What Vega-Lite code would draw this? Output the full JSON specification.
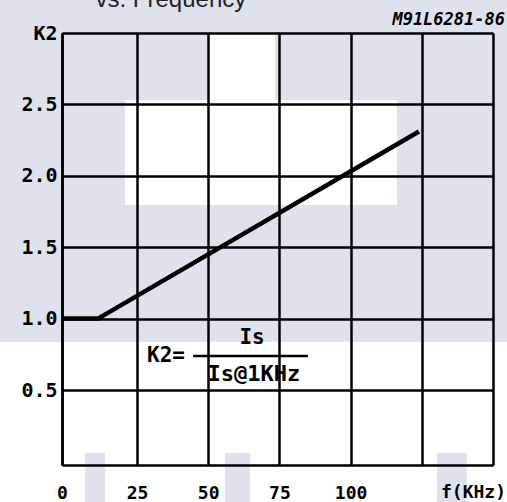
{
  "$schema": "https://vega.github.io/schema/vega-lite/v6.json",
  "width": 431,
  "height": 432,
  "autosize": {"type": "none"},
  "padding": {"left": 62, "top": 33, "right": 14, "bottom": 37},
  "background": "#dee2ed",
  "view": {"stroke": null},
  "data": {"values": [{}]},
  "config": {
    "axis": {
      "domainColor": "black",
      "domainWidth": 2.5,
      "gridColor": "black",
      "gridWidth": 2.5,
      "gridOpacity": 1,
      "ticks": false,
      "labelFlush": false,
      "labelFont": "DejaVu Sans Mono",
      "labelFontSize": 20,
      "labelFontWeight": "bold",
      "labelColor": "black",
      "title": null
    }
  },
  "layer": [
    {
      "mark": {"type": "rect", "fill": "white"},
      "encoding": {
        "x": {"datum": -25, "type": "quantitative", "scale": {"domain": [0, 25, 150], "range": [0, 75, 431]}},
        "x2": {"datum": 160},
        "y": {"datum": -0.3, "type": "quantitative", "scale": {"domain": [0, 0.5, 3], "range": [432, 357, 0]}},
        "y2": {"datum": 0.836}
      }
    },
    {
      "mark": {"type": "rect", "fill": "white"},
      "encoding": {
        "x": {"datum": 21, "type": "quantitative", "scale": {"domain": [0, 25, 150], "range": [0, 75, 431]}},
        "x2": {"datum": 116.3},
        "y": {"datum": 1.795, "type": "quantitative", "scale": {"domain": [0, 0.5, 3], "range": [432, 357, 0]}},
        "y2": {"datum": 2.53}
      }
    },
    {
      "mark": {"type": "rect", "fill": "white"},
      "encoding": {
        "x": {"datum": 49.9, "type": "quantitative", "scale": {"domain": [0, 25, 150], "range": [0, 75, 431]}},
        "x2": {"datum": 73.5},
        "y": {"datum": 2.5, "type": "quantitative", "scale": {"domain": [0, 0.5, 3], "range": [432, 357, 0]}},
        "y2": {"datum": 3.0}
      }
    },
    {
      "mark": {"type": "rect", "fill": "#dee2ed"},
      "encoding": {
        "x": {"datum": 7.7, "type": "quantitative", "scale": {"domain": [0, 25, 150], "range": [0, 75, 431]}},
        "x2": {"datum": 14.3},
        "y": {"datum": -0.3, "type": "quantitative", "scale": {"domain": [0, 0.5, 3], "range": [432, 357, 0]}},
        "y2": {"datum": 0.08}
      }
    },
    {
      "mark": {"type": "rect", "fill": "#dee2ed"},
      "encoding": {
        "x": {"datum": 55.9, "type": "quantitative", "scale": {"domain": [0, 25, 150], "range": [0, 75, 431]}},
        "x2": {"datum": 64.7},
        "y": {"datum": -0.3, "type": "quantitative", "scale": {"domain": [0, 0.5, 3], "range": [432, 357, 0]}},
        "y2": {"datum": 0.08}
      }
    },
    {
      "mark": {"type": "rect", "fill": "#dee2ed"},
      "encoding": {
        "x": {"datum": 130.3, "type": "quantitative", "scale": {"domain": [0, 25, 150], "range": [0, 75, 431]}},
        "x2": {"datum": 140.8},
        "y": {"datum": -0.3, "type": "quantitative", "scale": {"domain": [0, 0.5, 3], "range": [432, 357, 0]}},
        "y2": {"datum": 0.08}
      }
    },
    {
      "data": {"values": [
        {"f": 0, "K2": 1.0},
        {"f": 12, "K2": 1.0},
        {"f": 124, "K2": 2.31}
      ]},
      "mark": {"type": "line", "color": "black", "strokeWidth": 4.5, "strokeCap": "butt", "strokeJoin": "round"},
      "encoding": {
        "x": {
          "field": "f", "type": "quantitative",
          "scale": {"domain": [0, 25, 150], "range": [0, 75, 431]},
          "axis": {
            "values": [0, 25, 50, 75, 100, 125, 150],
            "labelExpr": "datum.value >= 125 ? '' : datum.label",
            "format": "d",
            "labelPadding": 19,
            "labelFontSize": 18,
            "labelFlush": false,
            "grid": true,
            "zindex": 1
          }
        },
        "y": {
          "field": "K2", "type": "quantitative",
          "scale": {"domain": [0, 0.5, 3], "range": [432, 357, 0]},
          "axis": {
            "values": [0.5, 1, 1.5, 2, 2.5, 3],
            "labelExpr": "datum.value == 3 ? 'K2' : format(datum.value, '.1f')",
            "labelPadding": 5,
            "labelFlush": false,
            "grid": true,
            "zindex": 1
          }
        }
      }
    },
    {
      "mark": {"type": "rule", "color": "black", "strokeWidth": 2.5},
      "encoding": {
        "x": {"datum": 44.7, "type": "quantitative", "scale": {"domain": [0, 25, 150], "range": [0, 75, 431]}},
        "x2": {"datum": 85},
        "y": {"datum": 0.738, "type": "quantitative", "scale": {"domain": [0, 0.5, 3], "range": [432, 357, 0]}}
      }
    },
    {
      "mark": {"type": "text", "font": "DejaVu Sans Mono", "fontWeight": "bold", "fontSize": 21, "color": "black", "align": "center", "baseline": "middle"},
      "encoding": {
        "x": {"datum": 35.2, "type": "quantitative", "scale": {"domain": [0, 25, 150], "range": [0, 75, 431]}},
        "y": {"datum": 0.74, "type": "quantitative", "scale": {"domain": [0, 0.5, 3], "range": [432, 357, 0]}},
        "text": {"value": "K2="}
      }
    },
    {
      "mark": {"type": "text", "font": "DejaVu Sans Mono", "fontWeight": "bold", "fontSize": 21, "color": "black", "align": "center", "baseline": "middle"},
      "encoding": {
        "x": {"datum": 65.4, "type": "quantitative", "scale": {"domain": [0, 25, 150], "range": [0, 75, 431]}},
        "y": {"datum": 0.864, "type": "quantitative", "scale": {"domain": [0, 0.5, 3], "range": [432, 357, 0]}},
        "text": {"value": "Is"}
      }
    },
    {
      "mark": {"type": "text", "font": "DejaVu Sans Mono", "fontWeight": "bold", "fontSize": 22, "color": "black", "align": "center", "baseline": "middle"},
      "encoding": {
        "x": {"datum": 66, "type": "quantitative", "scale": {"domain": [0, 25, 150], "range": [0, 75, 431]}},
        "y": {"datum": 0.612, "type": "quantitative", "scale": {"domain": [0, 0.5, 3], "range": [432, 357, 0]}},
        "text": {"value": "Is@1KHz"}
      }
    },
    {
      "mark": {"type": "text", "font": "DejaVu Sans Mono", "fontWeight": "bold", "fontSize": 18, "color": "black", "align": "right", "baseline": "top", "dx": 13, "dy": 19},
      "encoding": {
        "x": {"datum": 150, "type": "quantitative", "scale": {"domain": [0, 25, 150], "range": [0, 75, 431]}},
        "y": {"datum": 0, "type": "quantitative", "scale": {"domain": [0, 0.5, 3], "range": [432, 357, 0]}},
        "text": {"value": "f(KHz)"}
      }
    },
    {
      "mark": {"type": "text", "font": "DejaVu Sans Mono", "fontWeight": "bold", "fontStyle": "italic", "fontSize": 17, "color": "black", "align": "right", "baseline": "middle", "dx": 12, "dy": -13},
      "encoding": {
        "x": {"datum": 150, "type": "quantitative", "scale": {"domain": [0, 25, 150], "range": [0, 75, 431]}},
        "y": {"datum": 3, "type": "quantitative", "scale": {"domain": [0, 0.5, 3], "range": [432, 357, 0]}},
        "text": {"value": "M91L6281-86"}
      }
    },
    {
      "mark": {"type": "text", "font": "Liberation Sans", "fontSize": 24, "color": "#222222", "align": "center", "baseline": "alphabetic", "dy": -26},
      "encoding": {
        "x": {"datum": 36.9, "type": "quantitative", "scale": {"domain": [0, 25, 150], "range": [0, 75, 431]}},
        "y": {"datum": 3, "type": "quantitative", "scale": {"domain": [0, 0.5, 3], "range": [432, 357, 0]}},
        "text": {"value": "vs. Frequency"}
      }
    }
  ]
}
